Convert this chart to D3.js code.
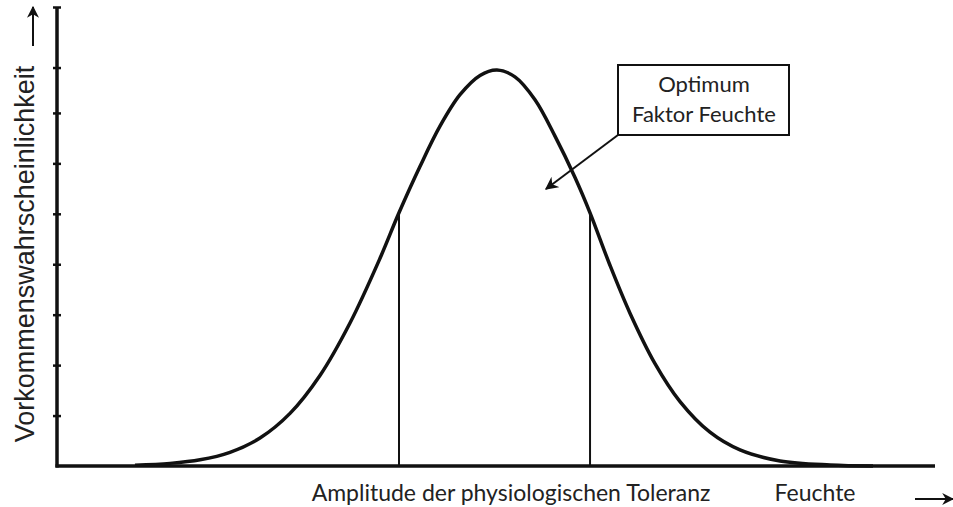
<!DOCTYPE html>
<html>
<head>
<meta charset="utf-8">
<script src="https://cdn.jsdelivr.net/npm/d3@7"></script>
<style>
  body { margin: 0; background: #fff; }
  svg { display: block; }
</style>
</head>
<body>
<div id="chart"></div>
<script>
var w = 953
var h = 507

// curve (feuchte 0-100, probability in tick units)
var moisture = [8.88, 12.87, 16.29, 19.70, 23.12, 26.54, 29.95, 33.37, 36.79, 38.95, 41.34, 43.62, 45.90, 48.18, 50.11, 52.16, 54.44, 56.72, 59.00, 60.71, 62.98, 65.26, 68.11, 70.96, 74.37, 77.79, 82.35, 88.04, 92.94]
var probability = [0.016, 0.052, 0.123, 0.272, 0.555, 1.043, 1.794, 2.835, 4.118, 5.02, 5.938, 6.737, 7.361, 7.744, 7.851, 7.714, 7.260, 6.540, 5.72, 5.02, 3.98, 3.03, 2.03, 1.277, 0.670, 0.319, 0.101, 0.020, 0]

// tolerance limits (vertical lines)
var toleranceX = [38.95, 60.71]
var toleranceY = [5.02, 5.02]

var yTicks = [1, 2, 3, 4, 5, 6, 7, 7.9, 9.1]

var yLabel = 'Vorkommenswahrscheinlichkeit'
var xLabel = 'Amplitude der physiologischen Toleranz'
var xName = 'Feuchte'
var boxLines = ['Optimum', 'Faktor Feuchte']

var x = d3.scaleLinear().domain([0, 100]).range([57, 935])
var y = d3.scaleLinear().domain([0, 9.1]).range([466, 7])

var svg = d3.select('#chart')
  .append('svg')
  .attr('width', w)
  .attr('height', h)

var defs = svg.append('defs')

function marker(id, size) {
  defs.append('marker')
    .attr('id', id)
    .attr('viewBox', '0 0 10 10')
    .attr('refX', 9)
    .attr('refY', 5)
    .attr('markerWidth', size)
    .attr('markerHeight', size)
    .attr('markerUnits', 'userSpaceOnUse')
    .attr('orient', 'auto')
    .append('path')
    .attr('d', 'M0,0 L10,5 L0,10 L3,5 Z')
    .attr('fill', '#111')
}
marker('head', 12)
marker('head2', 13)

// y axis ticks
var yAxis = d3.axisLeft(y)
  .tickValues(yTicks)
  .tickSize(0)
  .tickFormat('')

var gy = svg.append('g')
  .attr('transform', `translate(${x(0)},0)`)
  .call(yAxis)
gy.select('.domain').remove()

gy.selectAll('.tick')
  .append('line')
  .attr('x1', -4)
  .attr('x2', 4)
  .attr('stroke', '#111')
  .attr('stroke-width', 2.5)

// axes lines
svg.append('line')
  .attr('x1', x(0)).attr('x2', x(0))
  .attr('y1', y(0) + 1.5).attr('y2', y(9.1))
  .attr('stroke', '#111')
  .attr('stroke-width', 3.5)

svg.append('line')
  .attr('x1', x(0) - 1.5).attr('x2', x(100))
  .attr('y1', y(0)).attr('y2', y(0))
  .attr('stroke', '#111')
  .attr('stroke-width', 3.5)

// tolerance lines
svg.selectAll('.tol')
  .data(toleranceX)
  .enter()
  .append('line')
  .attr('class', 'tol')
  .attr('x1', d => x(d)).attr('x2', d => x(d))
  .attr('y1', y(0)).attr('y2', (d, i) => y(toleranceY[i]))
  .attr('stroke', '#111')
  .attr('stroke-width', 2)

// curve
var line = d3.line()
  .x(d => x(d[0]))
  .y(d => y(d[1]))
  .curve(d3.curveCatmullRom.alpha(0.5))

svg.append('path')
  .datum(moisture.map((m, i) => [m, probability[i]]))
  .attr('d', line)
  .attr('fill', 'none')
  .attr('stroke', '#111')
  .attr('stroke-width', 3.5)

// callout box
var box = svg.append('g')
box.append('rect')
  .attr('x', 618).attr('y', 65)
  .attr('width', 171).attr('height', 70)
  .attr('fill', '#fff')
  .attr('stroke', '#111')
  .attr('stroke-width', 2)

box.selectAll('text')
  .data(boxLines)
  .enter()
  .append('text')
  .attr('x', 704)
  .attr('y', (d, i) => 92 + i * 30)
  .attr('text-anchor', 'middle')
  .attr('font-family', 'Lato, "Open Sans", sans-serif')
  .attr('font-size', 22)
  .attr('fill', '#222')
  .text(d => d)

svg.append('line')
  .attr('x1', 618).attr('y1', 135)
  .attr('x2', 546).attr('y2', 189)
  .attr('stroke', '#111')
  .attr('stroke-width', 2)
  .attr('marker-end', 'url(#head2)')

// labels
svg.append('text')
  .attr('transform', 'translate(34,254) rotate(-90)')
  .attr('text-anchor', 'middle')
  .attr('font-family', '"Liberation Sans", Arial, sans-serif')
  .attr('font-size', 27)
  .attr('fill', '#222')
  .text(yLabel)

svg.append('line')
  .attr('x1', 33).attr('y1', 46)
  .attr('x2', 33).attr('y2', 7)
  .attr('stroke', '#111')
  .attr('stroke-width', 2)
  .attr('marker-end', 'url(#head)')

svg.append('text')
  .attr('x', 511).attr('y', 501)
  .attr('text-anchor', 'middle')
  .attr('font-family', 'Lato, "Open Sans", sans-serif')
  .attr('font-size', 23)
  .attr('fill', '#222')
  .text(xLabel)

svg.append('text')
  .attr('x', 815).attr('y', 501)
  .attr('text-anchor', 'middle')
  .attr('font-family', 'Lato, "Open Sans", sans-serif')
  .attr('font-size', 23)
  .attr('fill', '#222')
  .text(xName)

svg.append('line')
  .attr('x1', 915).attr('y1', 499)
  .attr('x2', 953).attr('y2', 499)
  .attr('stroke', '#111')
  .attr('stroke-width', 2)
  .attr('marker-end', 'url(#head)')
</script>
</body>
</html>
